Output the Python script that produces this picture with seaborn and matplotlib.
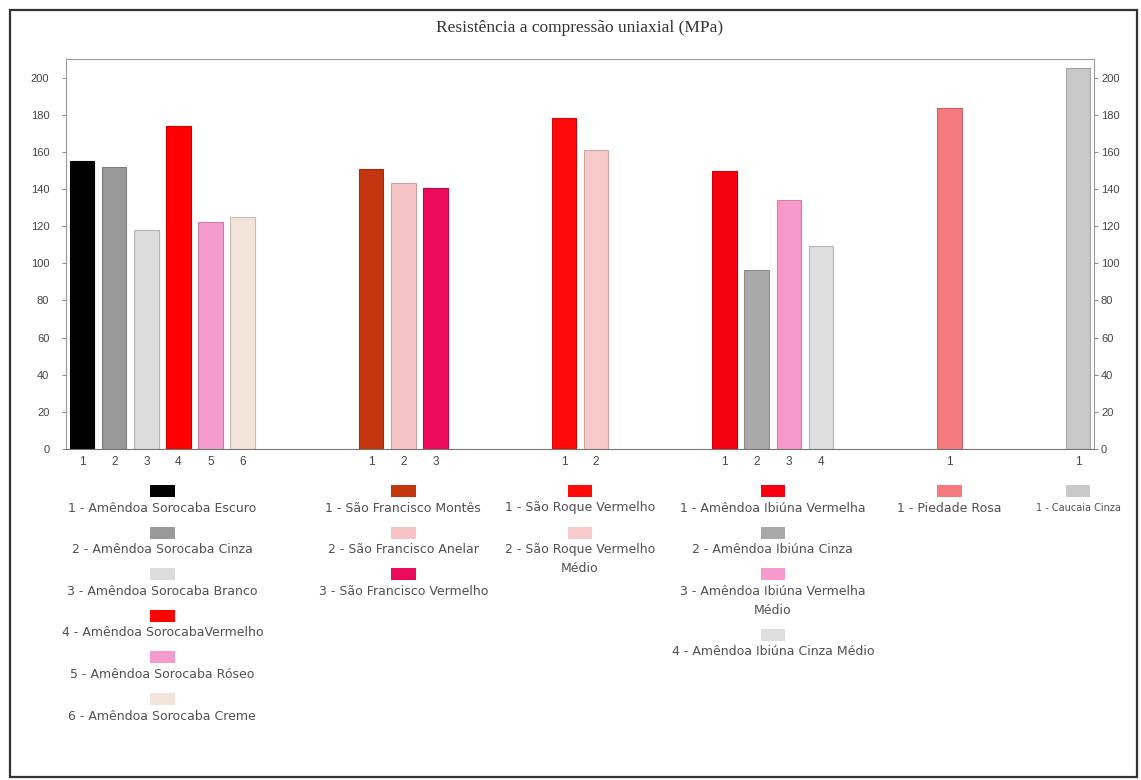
import numpy as np
import pandas as pd
import matplotlib
matplotlib.use("Agg")
import matplotlib.pyplot as plt
import seaborn as sns
from matplotlib import transforms
from matplotlib.patches import Rectangle

# ---------------- data ----------------
title = "Resistência a compressão uniaxial (MPa)"

sorocaba_labels = ["1 - Amêndoa Sorocaba Escuro", "2 - Amêndoa Sorocaba Cinza",
                   "3 - Amêndoa Sorocaba Branco", "4 - Amêndoa SorocabaVermelho",
                   "5 - Amêndoa Sorocaba Róseo", "6 - Amêndoa Sorocaba Creme"]
sorocaba_values = [155, 152, 118, 174, 122, 125]
sorocaba_colors = ["#000000", "#999999", "#dcdcdc", "#ff0000", "#f59ccd", "#f3e4da"]

saofrancisco_labels = ["1 - São Francisco Montês", "2 - São Francisco Anelar",
                       "3 - São Francisco Vermelho"]
saofrancisco_values = [151, 143, 140.5]
saofrancisco_colors = ["#c3360f", "#f6c4c6", "#eb0a5c"]

saoroque_labels = ["1 - São Roque Vermelho", "2 - São Roque Vermelho\nMédio"]
saoroque_values = [178, 161]
saoroque_colors = ["#ff0a0a", "#f7c9c9"]

ibiuna_labels = ["1 - Amêndoa Ibiúna Vermelha", "2 - Amêndoa Ibiúna Cinza",
                 "3 - Amêndoa Ibiúna Vermelha\nMédio", "4 - Amêndoa Ibiúna Cinza Médio"]
ibiuna_values = [149.5, 96.5, 134, 109.5]
ibiuna_colors = ["#f5000f", "#a9a9a9", "#f79acb", "#dedede"]

piedade_labels = ["1 - Piedade Rosa"]
piedade_values = [183.5]
piedade_colors = ["#f47a80"]

caucaia_labels = ["1 - Caucaia Cinza"]
caucaia_values = [205]
caucaia_colors = ["#c8c8c8"]

y_ticks = [0, 20, 40, 60, 80, 100, 120, 140, 160, 180, 200]

groups = [
    (sorocaba_labels, sorocaba_values, sorocaba_colors),
    (saofrancisco_labels, saofrancisco_values, saofrancisco_colors),
    (saoroque_labels, saoroque_values, saoroque_colors),
    (ibiuna_labels, ibiuna_values, ibiuna_colors),
    (piedade_labels, piedade_values, piedade_colors),
    (caucaia_labels, caucaia_values, caucaia_colors),
]
GAP = 3

# ---------------- build slot table ----------------
rows = []
order = []
ticklabels = []
palette = {}
group_slots = []
k = 0
for gi, (labs, vals, cols) in enumerate(groups):
    if gi > 0:
        for _ in range(GAP):
            name = f"s{k:02d}"
            order.append(name)
            ticklabels.append("")
            palette[name] = "#ffffff"
            k += 1
    idx = []
    for j, (v, c) in enumerate(zip(vals, cols)):
        name = f"s{k:02d}"
        order.append(name)
        ticklabels.append(str(j + 1))
        palette[name] = c
        rows.append({"slot": name, "valor": v})
        idx.append(k)
        k += 1
    group_slots.append(idx)

df = pd.DataFrame(rows)

# ---------------- figure ----------------
sns.set_theme(style="white")
plt.rcParams["font.family"] = ["Liberation Sans", "DejaVu Sans"]

W, H = 1141, 780
fig = plt.figure(figsize=(W / 100, H / 100), dpi=100)
ax = fig.add_axes([66 / W, 1 - 449 / H, (1094 - 66) / W, (449 - 59) / H])

sns.barplot(data=df, x="slot", y="valor", hue="slot", order=order,
            palette=palette, legend=False, width=0.76, ax=ax, saturation=1)

for p in ax.patches:
    fc = np.array(p.get_facecolor())
    ec = fc.copy()
    ec[:3] = fc[:3] * 0.82
    p.set_edgecolor(ec)
    p.set_linewidth(0.8)

ax.set_ylim(0, 210)
ax.set_xlim(-0.5, len(order) - 0.5)
ax.set_xticks(range(len(order)))
ax.set_xticklabels(ticklabels, fontsize=8.5, color="#444444")
ax.set_yticks(y_ticks)
ax.set_yticklabels([str(t) for t in y_ticks], fontsize=8, color="#444444")
ax.set_xlabel("")
ax.set_ylabel("")
ax.tick_params(axis="x", length=0, pad=5)
ax.tick_params(axis="y", length=3, width=0.7, color="#888888", pad=9, left=True)
for s in ax.spines.values():
    s.set_visible(True)
    s.set_color("#999999")
    s.set_linewidth(0.8)
ax.spines["bottom"].set_color("#777777")

ax2 = ax.twinx()
ax2.set_ylim(ax.get_ylim())
ax2.set_yticks(y_ticks)
ax2.set_yticklabels([str(t) for t in y_ticks], fontsize=8, color="#444444")
ax2.tick_params(axis="y", length=3, width=0.7, color="#888888", pad=2, right=True)
for s in ax2.spines.values():
    s.set_visible(False)
ax2.grid(False)

# title
fig.text((66 + 1094) / 2 / W, 1 - 28 / H, title, ha="center", va="center",
         fontsize=12.5, family=["Liberation Serif", "DejaVu Serif"], color="#333333")

# ---------------- custom legends under each group ----------------
trans = transforms.blended_transform_factory(ax.transData, fig.transFigure)
sw_h = 12 / H
for gi, ((labs, vals, cols), idx) in enumerate(zip(groups, group_slots)):
    xc = float(np.mean(idx))
    fs = 7.0 if gi == len(groups) - 1 else 9.0
    y = 491.0  # swatch centre (pixels from top)
    for lab, c in zip(labs, cols):
        r = Rectangle((xc - 0.38, 1 - y / H - sw_h / 2), 0.76, sw_h,
                      transform=trans, facecolor=c, edgecolor="none", clip_on=False)
        fig.add_artist(r)
        ty = y + 17
        lines = lab.split("\n")
        for li, line in enumerate(lines):
            t = fig.text(0, 0, line, transform=trans, fontsize=fs, color="#505050",
                         ha="center", va="center", family=["DejaVu Sans"])
            t.set_position((xc, 1 - ty / H))
            if li < len(lines) - 1:
                ty += 19
        y = ty + 24.6

# outer border
fig.add_artist(Rectangle((10 / W, 1 - 777 / H), (1137 - 10) / W, (777 - 10) / H,
                         transform=fig.transFigure, fill=False,
                         edgecolor="#333333", linewidth=1.6))

fig.savefig("out.png", dpi=100)
